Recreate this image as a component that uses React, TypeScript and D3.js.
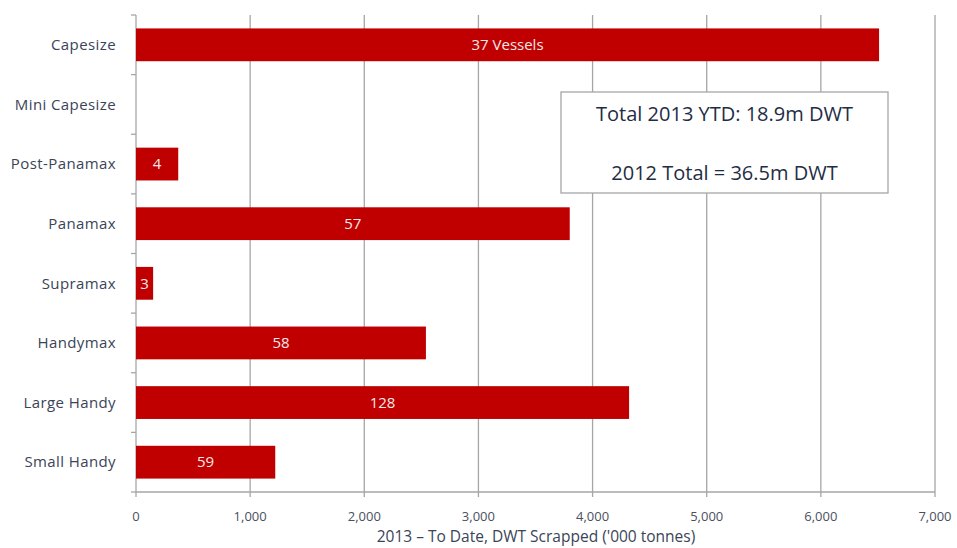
import React from "react";
import * as d3 from "d3";

const categories = ["Capesize", "Mini Capesize", "Post-Panamax", "Panamax", "Supramax", "Handymax", "Large Handy", "Small Handy"];
const dwtScrapped = [6510, 0, 370, 3800, 150, 2540, 4320, 1220];
const vesselLabels = ["37 Vessels", "", "4", "57", "3", "58", "128", "59"];
const xTicks = [0, 1000, 2000, 3000, 4000, 5000, 6000, 7000];
const axisTitle = "2013 \u2013 To Date, DWT Scrapped ('000 tonnes)";
const boxLines = ["Total 2013 YTD: 18.9m DWT", "2012 Total = 36.5m DWT"];

const W = 957, H = 548;
const FONT = "'Open Sans', 'Noto Sans', sans-serif";

export default function App() {
  const x = d3.scaleLinear().domain([0, 7000]).range([136, 935]);
  const y = d3.scaleBand<string>().domain(categories).range([15, 492]).paddingInner(0.45).paddingOuter(0.225);
  const fmt = d3.format(",");
  const boundaries = d3.range(categories.length + 1).map((i) => 15 + (492 - 15) * i / categories.length);

  return (
    <svg width={W} height={H} style={{ position: "absolute", left: 0, top: 0, background: "#fff" }}>
      <rect width={W} height={H} fill="#fff" />
      {xTicks.slice(1).map((t) => (
        <line key={"g" + t} x1={x(t)} x2={x(t)} y1={15} y2={497} stroke="#a6a6a6" strokeWidth={1.3} />
      ))}
      <line x1={x(0)} x2={x(0)} y1={15} y2={497} stroke="#a6a6a6" strokeWidth={1.3} />
      <line x1={x(0)} x2={x(7000)} y1={492} y2={492} stroke="#a6a6a6" strokeWidth={1.3} />
      {boundaries.map((b, i) => (
        <line key={"yt" + i} x1={131} x2={136} y1={b} y2={b} stroke="#a6a6a6" strokeWidth={1.3} />
      ))}
      {categories.map((c, i) => (
        <g key={c}>
          {dwtScrapped[i] > 0 && (
            <rect x={x(0)} y={y(c)} width={x(dwtScrapped[i]) - x(0)} height={y.bandwidth()} fill="#c00000" />
          )}
          {vesselLabels[i] && (
            <text x={(x(0) + x(dwtScrapped[i])) / 2} y={(y(c) as number) + y.bandwidth() / 2} dy="0.35em"
              textAnchor="middle" fill="#f4eaea" fontSize={15} fontFamily={FONT}>{vesselLabels[i]}</text>
          )}
          <text x={116} y={(y(c) as number) + y.bandwidth() / 2} dy="0.35em" textAnchor="end"
            fill="#3a4457" fontSize={15} letterSpacing={0.4} fontFamily={FONT}>{c}</text>
        </g>
      ))}
      {xTicks.map((t) => (
        <text key={"xt" + t} x={x(t)} y={516} dy="0.35em" textAnchor="middle" fill="#4a5060" fontSize={13} fontFamily={FONT}>
          {fmt(t)}
        </text>
      ))}
      <text x={536} y={537} dy="0.35em" textAnchor="middle" fill="#3a4457" fontSize={15.5} fontFamily={FONT}>{axisTitle}</text>
      <rect x={561} y={92} width={327} height={101} fill="#fff" stroke="#a6a6a6" strokeWidth={1.3} />
      {boxLines.map((l, i) => (
        <text key={l} x={724.5} y={114 + i * 59} dy="0.35em" textAnchor="middle" fill="#1f2d44" fontSize={20} fontFamily={FONT}>{l}</text>
      ))}
    </svg>
  );
}
